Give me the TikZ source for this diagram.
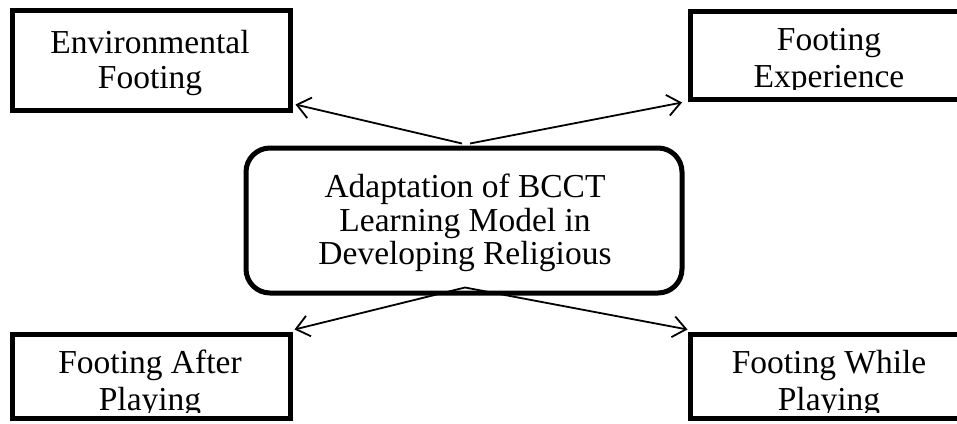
\documentclass[tikz,border=0pt]{standalone}
\usepackage{fontspec}
\setmainfont{Liberation Serif}
\usetikzlibrary{arrows.meta,calc}
\tikzset{
  framebox/.style={draw=black, line width=5pt, minimum width=278pt, inner sep=0pt, fill=white},
  centrebox/.style={draw=black, line width=5pt, rounded corners=24pt, minimum width=436pt, minimum height=145pt, inner sep=0pt, fill=white},
  label/.style={anchor=base, inner sep=0pt, font=\fontsize{33.5pt}{36pt}\selectfont},
  link/.style={draw=black, line width=1.8pt, -{Straight Barb[length=13pt,width=21pt,line width=1.8pt]}}
}
\begin{document}
\begin{tikzpicture}[x=1pt,y=-1pt]
\clip (0,0) rectangle (957,423);
\fill[white] (0,0) rectangle (957,423);
% boxes
\node[framebox, minimum height=100pt] (tl) at (151.5,60.5) {};
\node[framebox, minimum height=88pt] (tr) at (829.5,55.5) {};
\node[framebox, minimum height=83.5pt] (bl) at (151.5,376.25) {};
\node[framebox, minimum height=83.5pt] (br) at (829.5,376.25) {};
\node[centrebox] (c) at (464,220.5) {};
% texts
\node[label] (tl1) at (150,53) {Environmental};
\node[label] (tl2) at (150,88) {Footing};
\begin{scope}
  \clip (690,14) rectangle (957,89);
  \node[label] (tr1) at (829,50) {Footing};
  \node[label] (tr2) at (829,87) {Experience};
\end{scope}
\begin{scope}
  \clip (14,337) rectangle (289,412.5);
  \node[label] (bl1) at (150,373) {Footing After};
  \node[label] (bl2) at (150,410) {Playing};
\end{scope}
\begin{scope}
  \clip (693,337) rectangle (957,412.5);
  \node[label] (br1) at (829,373) {Footing While};
  \node[label] (br2) at (829,410) {Playing};
\end{scope}
\node[label] (c1) at (465,197) {Adaptation of BCCT};
\node[label] (c2) at (465,231.5) {Learning Model in};
\node[label] (c3) at (465,264.5) {Developing Religious};
% connectors
\draw[link] ($(c.north)+(-2,-2)$) -- ($(tl.south east)+(2.5,-8.5)$);
\draw[link] ($(c.north)+(6,-2)$) -- ($(tr.south west)+(-6,0.5)$);
\draw[link] ($(c.south)+(1,-8)$) -- ($(bl.north east)+(1.5,-2.5)$);
\draw[link] ($(c.south)+(1,-8)$) -- ($(br.north west)+(-0.5,-2.5)$);
\end{tikzpicture}
\end{document}
